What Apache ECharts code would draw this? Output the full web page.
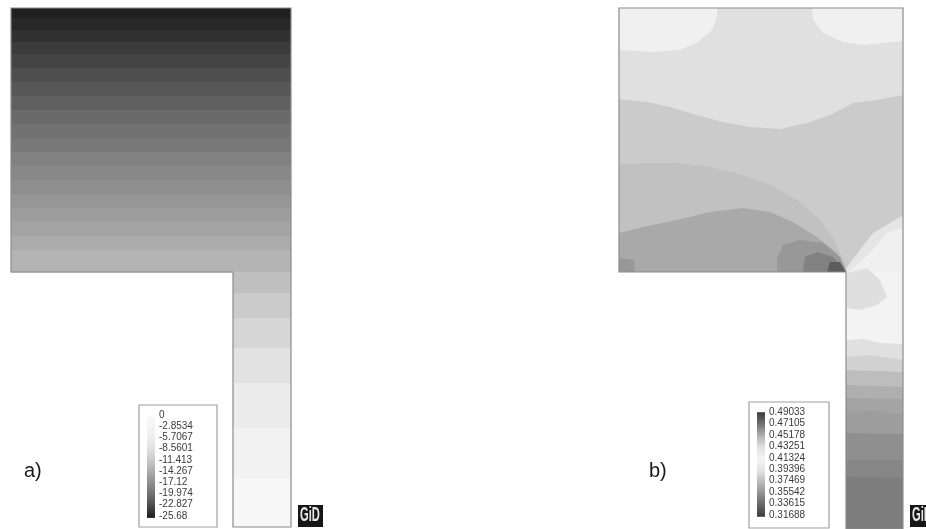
<!DOCTYPE html>
<html>
<head>
<meta charset="utf-8">
<title>GiD contour plots</title>
<script src="https://cdn.jsdelivr.net/npm/echarts@6/dist/echarts.min.js"></script>
<style>
  html, body { margin: 0; padding: 0; background: #fff; overflow: hidden; }
  #chart { width: 926px; height: 529px; }
</style>
</head>
<body>
<div id="chart"></div>
<script>
// outline of the domain, in model units (same for both panels up to scale)
const leftOutline = [[0, 0], [280, 0], [280, 519], [222, 519], [222, 264], [0, 264]]
const rightOutline = [[0, 0], [284, 0], [284, 521], [227, 521], [227, 264], [0, 264]]

// legend ticks, top to bottom
const leftTicks = ['0', '-2.8534', '-5.7067', '-8.5601', '-11.413', '-14.267', '-17.12', '-19.974', '-22.827', '-25.68']
const rightTicks = ['0.49033', '0.47105', '0.45178', '0.43251', '0.41324', '0.39396', '0.37469', '0.35542', '0.33615', '0.31688']

// grey ramps as seen in the legend bars, same order as the ticks
const leftRamp = ['#fafafa', '#f4f4f4', '#eeeeee', '#e0e0e0', '#c8c8c8', '#aaaaaa', '#8c8c8c', '#6e6e6e', '#484848', '#1c1c1c']
const rightRamp = ['#3c3c3c', '#707070', '#b0b0b0', '#e0e0e0', '#f4f4f4', '#e4e4e4', '#bcbcbc', '#909090', '#666666', '#3c3c3c']

// a) horizontal bands: lower edge of each band and its value
const leftBandEdges = [10, 22, 34, 46, 60, 74, 88, 102, 116, 130, 144, 158, 172, 186, 200, 214, 228, 242, 264, 285, 310, 340, 375, 420, 470, 519]
const leftBandValues = [-25.4, -24.9, -24.3, -23.7, -23.1, -22.4, -21.7, -21.0, -20.3, -19.6, -19.0, -18.2, -17.5, -16.9, -16.2, -15.5, -14.8, -14.1, -13.3, -12.2, -11.1, -9.7, -8.1, -6.2, -3.8, -1.4]

// b) contour regions, painted in this order
const rightRegionValues = [
  0.4325, 0.417, 0.417, 0.441, 0.445, 0.454, 0.459, 0.466, 0.478, 0.459,
  0.428, 0.417, 0.414, 0.433,
  0.392, 0.385, 0.375, 0.369, 0.364, 0.361, 0.355, 0.351, 0.3465
]
const rightRegions = [
  [[0, 0], [284, 0], [284, 264], [0, 264]],
  [[0, 0], [98, 0], [98, 9], [93, 22], [79, 34], [61, 42], [34, 44], [0, 42]],
  [[193, 0], [194, 12], [204, 25], [224, 34], [244, 37], [264, 35], [284, 33], [284, 0]],
  [[0, 91], [28, 94], [51, 99], [78, 107], [104, 114], [131, 119], [161, 121], [188, 115], [211, 107], [234, 95], [258, 92], [284, 87], [284, 264], [0, 264]],
  [[0, 157], [24, 155], [58, 155], [91, 159], [124, 167], [151, 177], [178, 192], [198, 209], [214, 229], [226, 255], [227, 264], [0, 264]],
  [[0, 225], [24, 219], [58, 212], [91, 204], [124, 200], [151, 204], [174, 214], [198, 229], [218, 245], [226, 259], [227, 264], [0, 264]],
  [[158, 264], [158, 250], [164, 237], [181, 232], [204, 235], [221, 249], [227, 264]],
  [[184, 264], [186, 249], [198, 244], [214, 249], [227, 264]],
  [[208, 264], [211, 254], [221, 254], [227, 264]],
  [[0, 264], [0, 250], [15, 252], [16, 264]],
  [[227, 264], [228, 259], [254, 225], [281, 209], [284, 207], [284, 264]],
  [[229, 264], [251, 245], [268, 225], [284, 220], [284, 264]],
  [[227, 264], [284, 264], [284, 340], [227, 340]],
  [[228, 265], [248, 260], [261, 272], [268, 289], [258, 297], [241, 302], [228, 300]],
  [[227, 332], [244, 331], [261, 335], [284, 336], [284, 521], [227, 521]],
  [[227, 349], [250, 347], [284, 352], [284, 521], [227, 521]],
  [[227, 362], [284, 364], [284, 521], [227, 521]],
  [[227, 377], [284, 379], [284, 521], [227, 521]],
  [[227, 390], [284, 391], [284, 521], [227, 521]],
  [[227, 405], [250, 403], [284, 406], [284, 521], [227, 521]],
  [[227, 425], [284, 426], [284, 521], [227, 521]],
  [[227, 452], [284, 452], [284, 521], [227, 521]],
  [[227, 469], [284, 470], [284, 521], [227, 521]]
]

const chart = echarts.init(document.getElementById('chart'), null, { renderer: 'canvas' })

const hiddenAxis = (gridIndex, min, max, inverse) => ({
  type: 'value', gridIndex, min, max, inverse, show: false
})

const legendYAxis = (gridIndex, ticks) => ({
  type: 'category',
  gridIndex,
  data: ticks,
  inverse: true,
  position: 'right',
  axisLine: { show: false },
  axisTick: { show: false },
  axisLabel: {
    interval: 0,
    margin: 4,
    fontSize: 10,
    fontFamily: 'Liberation Sans',
    color: '#3a3a3a'
  }
})

const bandItem = (api) => {
  const i = api.value(0)
  const top = i === 0 ? 0 : leftBandEdges[i - 1]
  const bottom = leftBandEdges[i]
  const x0 = top >= 264 ? 222 : 0
  const a = api.coord([x0, top])
  const b = api.coord([280, bottom])
  return {
    type: 'rect',
    shape: { x: a[0], y: a[1], width: b[0] - a[0], height: b[1] - a[1] + 0.5 },
    style: { fill: api.visual('color') }
  }
}

const regionItem = (api) => ({
  type: 'polygon',
  shape: { points: rightRegions[api.value(0)].map((p) => api.coord(p)) },
  style: { fill: api.visual('color') }
})

const outlineSeries = (axisIndex, outline) => ({
  type: 'custom',
  coordinateSystem: 'cartesian2d',
  xAxisIndex: axisIndex,
  yAxisIndex: axisIndex,
  silent: true,
  z: 5,
  data: [[0]],
  renderItem: (params, api) => ({
    type: 'polygon',
    shape: { points: outline.map((p) => api.coord(p)) },
    style: { fill: 'none', stroke: '#8c8c8c', lineWidth: 1.2 }
  })
})

const barSeries = (axisIndex, ramp) => ({
  type: 'custom',
  coordinateSystem: 'cartesian2d',
  xAxisIndex: axisIndex,
  yAxisIndex: axisIndex,
  silent: true,
  data: [[0]],
  renderItem: (params, api) => {
    const a = api.coord([0, 0])
    const b = api.coord([1, ramp.length - 1])
    return {
      type: 'rect',
      shape: { x: a[0], y: a[1], width: b[0] - a[0], height: b[1] - a[1] + 2 },
      style: {
        fill: new echarts.graphic.LinearGradient(0, 0, 0, 1,
          ramp.map((color, i) => ({ offset: i / (ramp.length - 1), color })))
      }
    }
  }
})

const frame = (x, y, width, height) => ({
  type: 'rect',
  shape: { x, y, width, height },
  style: { fill: 'none', stroke: '#a0a0a0', lineWidth: 1.2 }
})

const logo = (x, y) => ({
  type: 'group',
  x,
  y,
  children: [
    { type: 'rect', shape: { x: 0, y: 0, width: 25, height: 22 }, style: { fill: '#161616' } },
    {
      type: 'text',
      x: 2,
      y: 0,
      scaleX: 0.62,
      scaleY: 1.15,
      style: { text: 'GiD', fill: '#e8e8e8', font: 'bold 18px "Liberation Sans"', textVerticalAlign: 'top' }
    }
  ]
})

const caption = (text, x, y) => ({
  type: 'text',
  x,
  y,
  style: { text, fill: '#1a1a1a', font: '20px "Liberation Sans"' }
})

const option = {
  animation: false,
  backgroundColor: '#ffffff',
  grid: [
    { left: 11, top: 8, width: 280, height: 519 },
    { left: 147, top: 409.5, width: 8, height: 112 },
    { left: 619, top: 8, width: 284, height: 521 },
    { left: 757, top: 406.5, width: 8, height: 114 }
  ],
  xAxis: [
    hiddenAxis(0, 0, 280, false),
    hiddenAxis(1, 0, 1, false),
    hiddenAxis(2, 0, 284, false),
    hiddenAxis(3, 0, 1, false)
  ],
  yAxis: [
    hiddenAxis(0, 0, 519, true),
    legendYAxis(1, leftTicks),
    hiddenAxis(2, 0, 521, true),
    legendYAxis(3, rightTicks)
  ],
  visualMap: [
    {
      show: false,
      seriesIndex: 0,
      dimension: 1,
      min: parseFloat(leftTicks[leftTicks.length - 1]),
      max: parseFloat(leftTicks[0]),
      inRange: { color: leftRamp.slice().reverse() }
    },
    {
      show: false,
      seriesIndex: 2,
      dimension: 1,
      min: parseFloat(rightTicks[rightTicks.length - 1]),
      max: parseFloat(rightTicks[0]),
      inRange: { color: rightRamp.slice().reverse() }
    }
  ],
  series: [
    {
      type: 'custom',
      coordinateSystem: 'cartesian2d',
      xAxisIndex: 0,
      yAxisIndex: 0,
      silent: true,
      encode: { x: 0, y: 1 },
      data: leftBandValues.map((v, i) => [i, v]),
      renderItem: (params, api) => bandItem(api)
    },
    outlineSeries(0, leftOutline),
    {
      type: 'custom',
      coordinateSystem: 'cartesian2d',
      xAxisIndex: 2,
      yAxisIndex: 2,
      silent: true,
      encode: { x: 0, y: 1 },
      data: rightRegionValues.map((v, i) => [i, v]),
      renderItem: (params, api) => regionItem(api)
    },
    outlineSeries(2, rightOutline),
    barSeries(1, leftRamp),
    barSeries(3, rightRamp)
  ],
  graphic: [
    frame(139, 405, 78, 122),
    frame(749, 402, 80, 126),
    logo(298, 505),
    logo(910, 505),
    caption('a)', 24, 461),
    caption('b)', 649, 461)
  ]
}

chart.setOption(option)
</script>
</body>
</html>
